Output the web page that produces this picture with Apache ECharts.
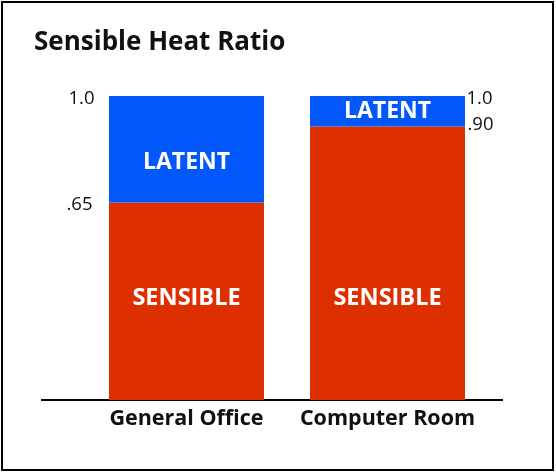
<!DOCTYPE html>
<html>
<head>
<meta charset="utf-8">
<script src="https://cdn.jsdelivr.net/npm/echarts@6/dist/echarts.min.js"></script>
<style>
  html, body { margin: 0; padding: 0; background: #fff; }
  #main { width: 556px; height: 473px; }
</style>
</head>
<body>
<div id="main"></div>
<script>
// 数据
var categories = ['General Office', 'Computer Room'];
var sensible = [0.65, 0.90];
var latent = [0.35, 0.10];
// 柱子边上的刻度标注
var officeMarks = [1.0, 0.65];
var officeTexts = ['1.0', '.65'];
var roomMarks = [1.0, 0.90];
var roomTexts = ['1.0', '.90'];

var FONT = 'Open Sans';
var myChart = echarts.init(document.getElementById('main'));

var marks = [];
officeMarks.forEach(function (v, i) {
    marks.push({
        coord: [categories[0], v],
        value: officeTexts[i],
        label: { align: 'right', offset: [i === 0 ? -92 : -94, i === 0 ? 3 : 2] }
    });
});
roomMarks.forEach(function (v, i) {
    marks.push({
        coord: [categories[1], v],
        value: roomTexts[i],
        label: { align: 'left', offset: [i === 0 ? 79 : 80, i === 0 ? 3 : -2] }
    });
});

var option = {
    backgroundColor: '#fff',
    animation: false,
    title: {
        text: 'Sensible Heat Ratio',
        left: 29,
        top: 25,
        textStyle: { fontFamily: FONT, fontWeight: 'bold', fontSize: 26, color: '#111' }
    },
    grid: { left: 86, right: 68, top: 96, bottom: 73 },
    xAxis: {
        type: 'category',
        data: categories,
        axisLine: { show: false },
        axisTick: { show: false },
        axisLabel: {
            interval: 0,
            margin: 8,
            fontFamily: FONT, fontWeight: 'bold', fontSize: 21.5, color: '#111'
        }
    },
    yAxis: {
        type: 'value',
        min: 0,
        max: 1,
        show: false
    },
    series: [{
        name: 'SENSIBLE',
        type: 'bar',
        stack: 'shr',
        barWidth: 155,
        data: sensible,
        itemStyle: { color: '#de2f00' },
        label: {
            show: true,
            position: 'insideBottom',
            distance: 90,
            formatter: '{a}',
            fontFamily: FONT, fontWeight: 'bold', fontSize: 23.5, color: '#fff'
        },
        markPoint: {
            symbol: 'circle',
            symbolSize: 0,
            itemStyle: { color: 'transparent' },
            label: {
                show: true,
                position: 'inside',
                verticalAlign: 'middle',
                formatter: '{c}',
                fontFamily: FONT, fontSize: 18.5, color: '#111'
            },
            data: marks
        }
    }, {
        name: 'LATENT',
        type: 'bar',
        stack: 'shr',
        barWidth: 155,
        data: [
            { value: latent[0], label: { offset: [0, 13] } },
            { value: latent[1] }
        ],
        itemStyle: { color: '#0358fb' },
        label: {
            show: true,
            position: 'inside',
            formatter: '{a}',
            fontFamily: FONT, fontWeight: 'bold', fontSize: 23, color: '#fff'
        }
    }],
    graphic: [{
        // 外框
        type: 'rect',
        shape: { x: 2, y: 2, width: 551, height: 468 },
        style: { fill: 'none', stroke: '#000', lineWidth: 2 },
        silent: true
    }, {
        // 底线
        type: 'line',
        shape: { x1: 41, y1: 400, x2: 503, y2: 400 },
        style: { stroke: '#000', lineWidth: 2 },
        silent: true
    }]
};
myChart.setOption(option);
</script>
</body>
</html>
